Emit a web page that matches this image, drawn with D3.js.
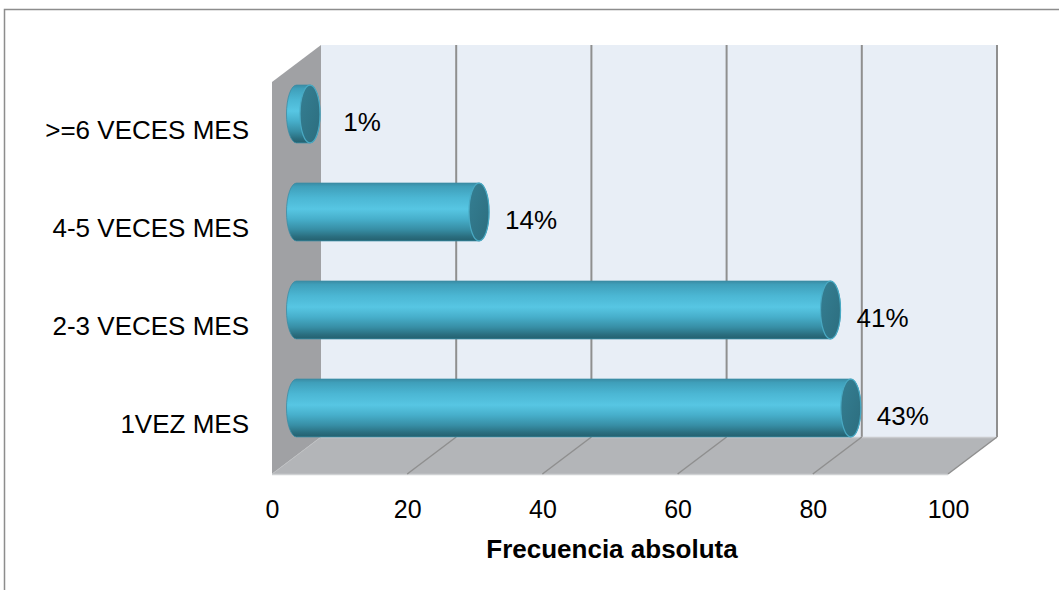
<!DOCTYPE html>
<html>
<head>
<meta charset="utf-8">
<script src="https://cdn.jsdelivr.net/npm/d3@7"></script>
<style>
  html, body { margin: 0; padding: 0; background: #ffffff; }
  svg { display: block; font-family: "Liberation Sans", Arial, sans-serif; }
</style>
</head>
<body>
<svg id="chart" width="1059" height="590"></svg>
<script>
// Visit frequency per month (absolute frequency) and share of respondents
const categories = ["1VEZ MES", "2-3 VECES MES", "4-5 VECES MES", ">=6 VECES MES"];
const frequencies = [82, 79, 27, 2];
const shares = [43, 41, 14, 1];
const xTicks = [0, 20, 40, 60, 80, 100];
const axisTitle = "Frecuencia absoluta";

const svg = d3.select("#chart");

// 3D box geometry: back wall and depth offset of the floor / side wall
const wall = { left: 321, right: 997, top: 45, bottom: 437 };
const depth = { dx: -49, dy: 37 };

const xBack = d3.scaleLinear().domain([0, 100]).range([wall.left, wall.right]);
const xFront = d3.scaleLinear().domain([0, 100]).range([wall.left + depth.dx, wall.right + depth.dx]);
const xMid = d3.scaleLinear().domain([0, 100]).range([wall.left + depth.dx / 2, wall.right + depth.dx / 2]);

const order = categories.slice().reverse();
const yFront = d3.scaleBand().domain(order).range([wall.top + depth.dy, wall.bottom + depth.dy]);
const yMid = d3.scaleBand().domain(order).range([wall.top + depth.dy / 2 + 1.5, wall.bottom + depth.dy / 2 + 1.5]);

// outer chart frame
svg.append("rect")
  .attr("x", 4.5).attr("y", 9.5).attr("width", 1200).attr("height", 700)
  .attr("fill", "none").attr("stroke", "#8d8d8d").attr("stroke-width", 1.5);

const defs = svg.append("defs");
const grad = defs.append("linearGradient")
  .attr("id", "cyl").attr("x1", 0).attr("y1", 0).attr("x2", 0).attr("y2", 1);
[
  [0, "#3a8ca4"], [0.06, "#3f9fba"], [0.25, "#4bb6d3"], [0.45, "#57c6e3"],
  [0.62, "#47afcb"], [0.8, "#378ea5"], [0.93, "#2a6d7e"], [1, "#24606f"]
].forEach(([o, c]) => grad.append("stop").attr("offset", o).attr("stop-color", c));

const capGrad = defs.append("linearGradient")
  .attr("id", "cap").attr("x1", 0).attr("y1", 0).attr("x2", 1).attr("y2", 1);
[[0, "#357f93"], [1, "#2c6d7e"]]
  .forEach(([o, c]) => capGrad.append("stop").attr("offset", o).attr("stop-color", c));

// back wall
svg.append("rect")
  .attr("x", wall.left).attr("y", wall.top)
  .attr("width", wall.right - wall.left).attr("height", wall.bottom - wall.top)
  .attr("fill", "#e8eef6");

// vertical gridlines on the back wall
svg.append("g").selectAll("line")
  .data(xTicks.slice(1))
  .join("line")
  .attr("x1", d => xBack(d)).attr("x2", d => xBack(d))
  .attr("y1", wall.top).attr("y2", wall.bottom)
  .attr("stroke", "#8f8f8f").attr("stroke-width", 2);

// left side wall
svg.append("path")
  .attr("d", `M${wall.left},${wall.top} L${wall.left},${wall.bottom} L${wall.left + depth.dx},${wall.bottom + depth.dy} L${wall.left + depth.dx},${wall.top + depth.dy} Z`)
  .attr("fill", "#a0a1a4");

// floor
svg.append("path")
  .attr("d", `M${wall.left},${wall.bottom} L${wall.right},${wall.bottom} L${wall.right + depth.dx},${wall.bottom + depth.dy} L${wall.left + depth.dx},${wall.bottom + depth.dy} Z`)
  .attr("fill", "#b3b5b8");

// floor edges
svg.append("line")
  .attr("x1", wall.left).attr("x2", wall.right)
  .attr("y1", wall.bottom + 0.5).attr("y2", wall.bottom + 0.5)
  .attr("stroke", "#c9cbce").attr("stroke-width", 1.5);
svg.append("line")
  .attr("x1", wall.left + depth.dx).attr("x2", wall.right + depth.dx)
  .attr("y1", wall.bottom + depth.dy + 0.5).attr("y2", wall.bottom + depth.dy + 0.5)
  .attr("stroke", "#cfd1d3").attr("stroke-width", 1.5);
svg.append("line")
  .attr("x1", wall.left).attr("x2", wall.left + depth.dx)
  .attr("y1", wall.bottom).attr("y2", wall.bottom + depth.dy)
  .attr("stroke", "#bfc1c3").attr("stroke-width", 1);

// floor gridlines running toward the viewer
svg.append("g").selectAll("line")
  .data(xTicks.slice(1))
  .join("line")
  .attr("x1", d => xBack(d)).attr("y1", wall.bottom)
  .attr("x2", d => xFront(d)).attr("y2", wall.bottom + depth.dy)
  .attr("stroke", "#8f8f8f").attr("stroke-width", 1.5);

// cylinders
const barFrac = 0.59;
const capRx = 10;
const bars = svg.append("g").selectAll("g")
  .data(categories.map((c, i) => ({ cat: c, value: frequencies[i], share: shares[i] })))
  .join("g");

function cylinderBody(d) {
  const cy = yMid(d.cat) + yMid.bandwidth() / 2;
  const r = yMid.bandwidth() * barFrac / 2;
  const x0 = xMid(0), x1 = xMid(d.value);
  return `M${x0},${cy - r} L${x1},${cy - r} A${capRx},${r} 0 0 1 ${x1},${cy + r} L${x0},${cy + r} A${capRx},${r} 0 0 1 ${x0},${cy - r} Z`;
}

bars.append("path")
  .attr("d", cylinderBody)
  .attr("fill", "url(#cyl)")
  .attr("stroke", "#3b8da4").attr("stroke-width", 0.8);

bars.append("ellipse")
  .attr("cx", d => xMid(d.value))
  .attr("cy", d => yMid(d.cat) + yMid.bandwidth() / 2)
  .attr("rx", capRx)
  .attr("ry", yMid.bandwidth() * barFrac / 2)
  .attr("fill", "url(#cap)")
  .attr("stroke", "#49a9c3").attr("stroke-width", 1.2);

// share labels beside each cylinder
bars.append("text")
  .attr("x", d => xMid(d.value) + 52)
  .attr("y", d => yMid(d.cat) + yMid.bandwidth() / 2 + 8)
  .attr("dy", "0.35em")
  .attr("text-anchor", "middle")
  .attr("font-size", 26)
  .attr("fill", "#000")
  .text(d => d.share + "%");

// category axis
const yAxis = svg.append("g")
  .attr("transform", "translate(249,0)")
  .call(d3.axisLeft(yFront).tickSize(0).tickPadding(0));
yAxis.select(".domain").remove();
yAxis.selectAll("text")
  .attr("font-size", 26)
  .attr("font-family", "Liberation Sans, Arial, sans-serif")
  .attr("fill", "#000");

// value axis
const xAxis = svg.append("g")
  .attr("transform", `translate(0,${wall.bottom + depth.dy + 26})`)
  .call(d3.axisBottom(xFront).tickValues(xTicks).tickSize(0).tickPadding(0));
xAxis.select(".domain").remove();
xAxis.selectAll("text")
  .attr("font-size", 25)
  .attr("font-family", "Liberation Sans, Arial, sans-serif")
  .attr("fill", "#000");

svg.append("text")
  .attr("x", 612).attr("y", 558)
  .attr("text-anchor", "middle")
  .attr("font-size", 26)
  .attr("font-weight", "bold")
  .attr("fill", "#000")
  .text(axisTitle);
</script>
</body>
</html>
